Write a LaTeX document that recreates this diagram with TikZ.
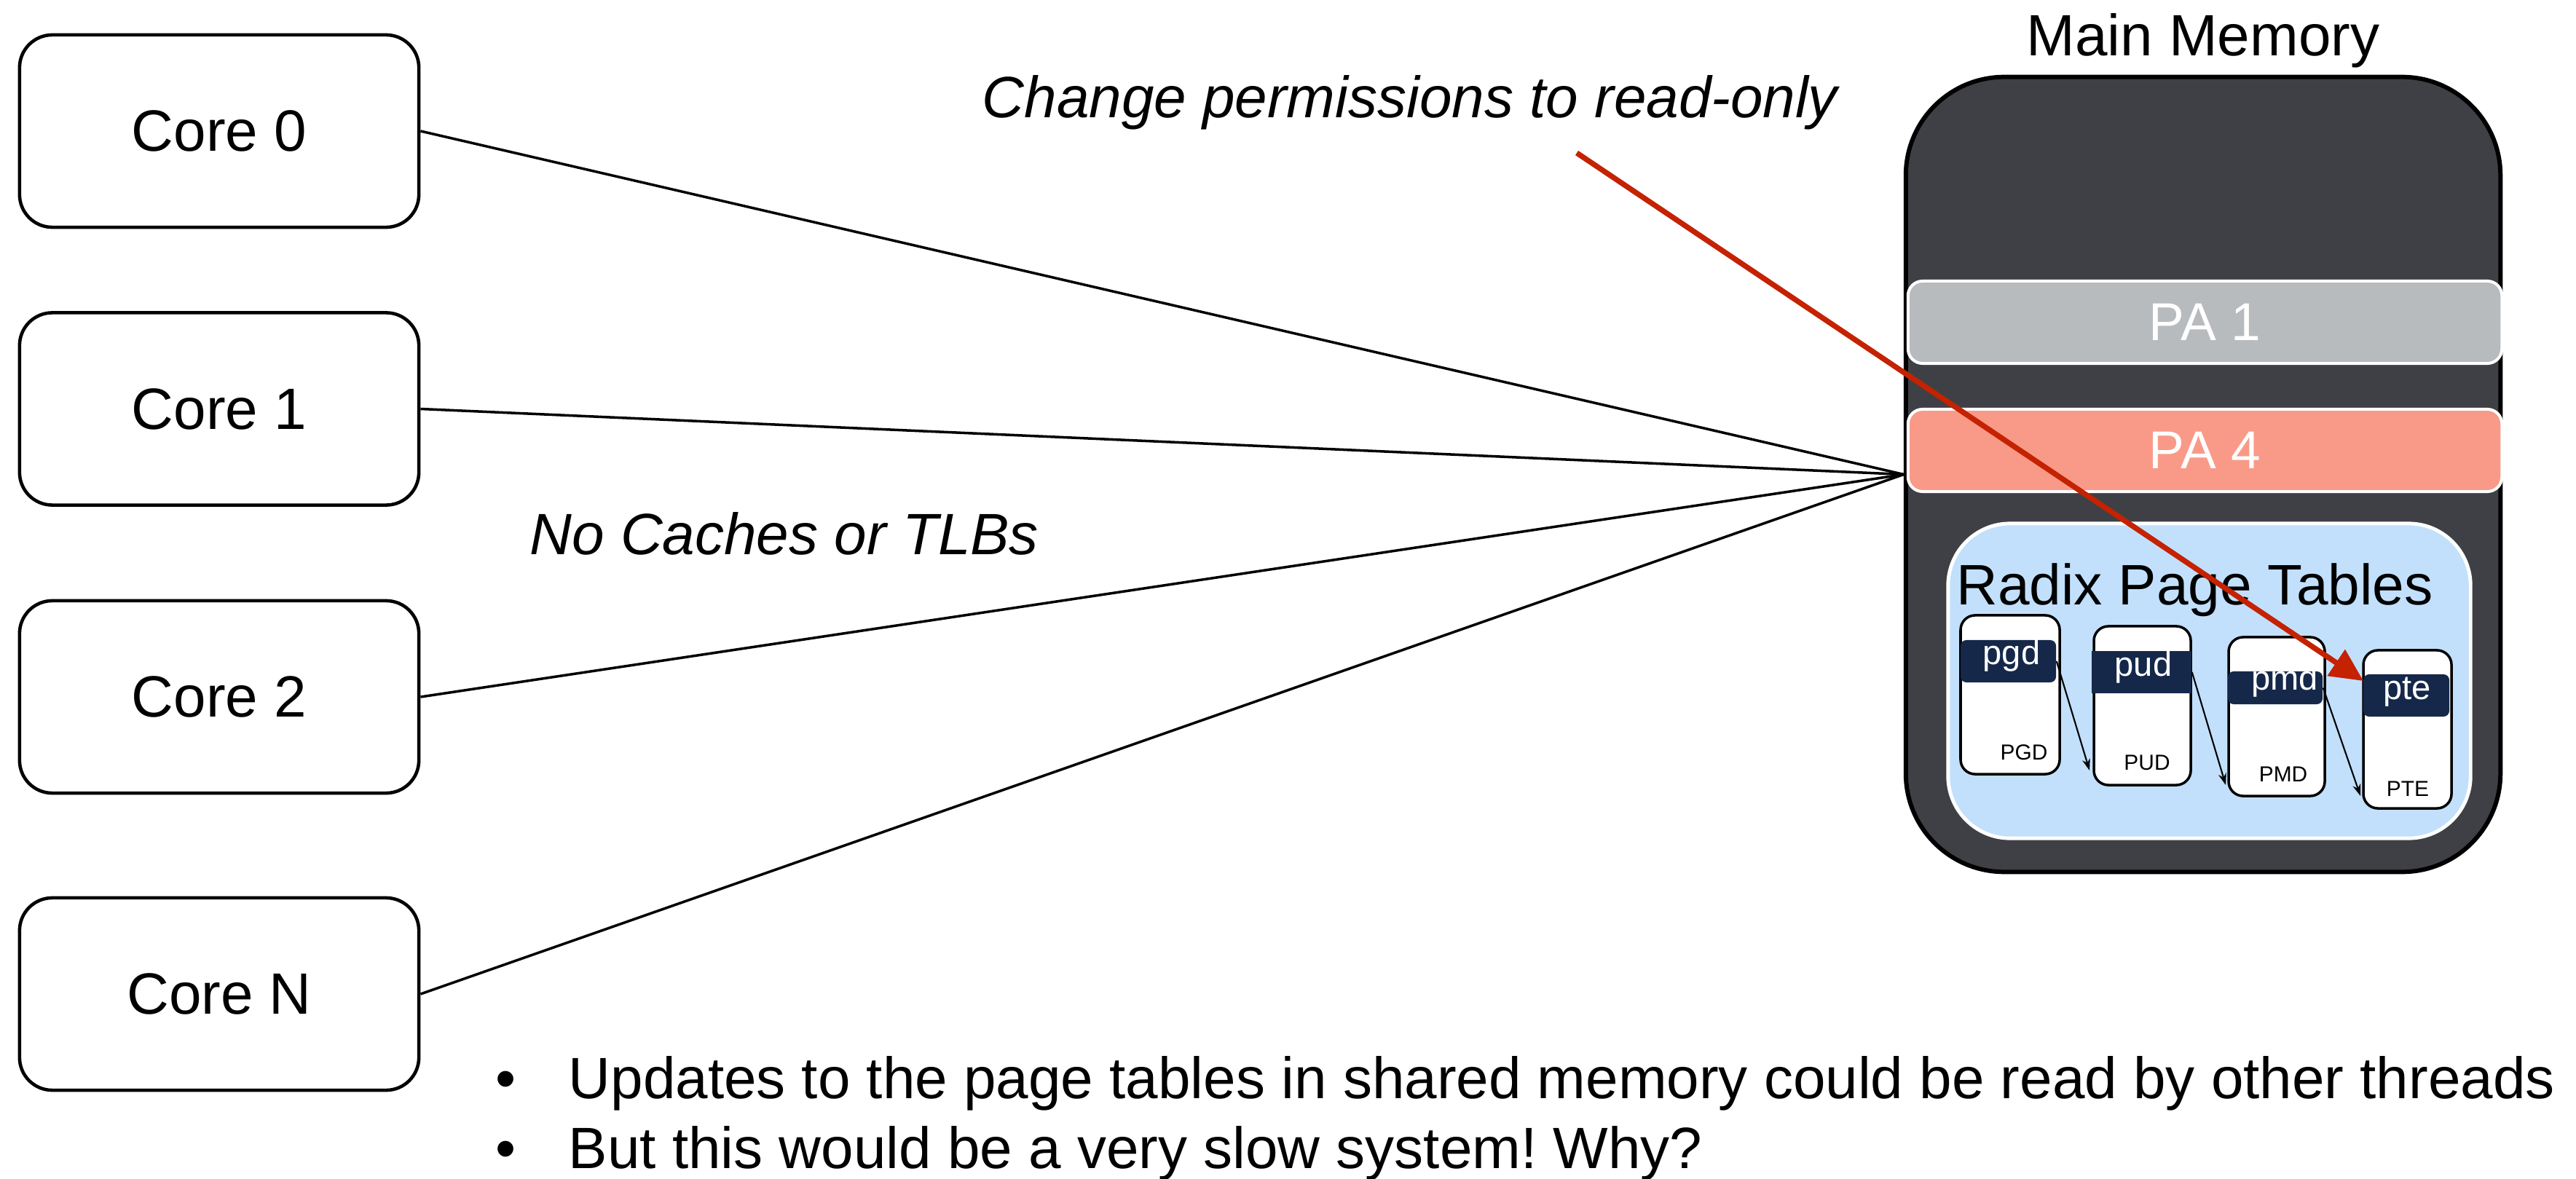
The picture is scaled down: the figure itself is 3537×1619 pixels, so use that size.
\documentclass[tikz,border=0pt]{standalone}
\usepackage{fontspec}
\setmainfont{Liberation Sans}
\usetikzlibrary{arrows.meta,calc}
\definecolor{memgray}{RGB}{62,64,69}
\definecolor{pagray}{RGB}{184,187,190}
\definecolor{pasalmon}{RGB}{249,154,136}
\definecolor{radixblue}{RGB}{194,224,251}
\definecolor{bandnavy}{RGB}{21,40,74}
\definecolor{arrowred}{RGB}{196,34,0}
\frenchspacing
\begin{document}
\begin{tikzpicture}[x=0.01cm,y=-0.01cm,
  bigtext/.style={font=\fontsize{22.76}{27}\selectfont},
  core/.style={draw=black, fill=white, line width=1.3pt, rounded corners=0.45cm,
    minimum width=5.48cm, minimum height=2.64cm, bigtext},
  txt/.style={inner sep=0pt, bigtext},
  pabox/.style={draw=white, line width=1.14pt, rounded corners=0.2cm,
    minimum width=8.15cm, minimum height=1.13cm, text=white,
    font=\fontsize{20.8}{24}\selectfont},
  ptbox/.style={draw=black, fill=white, line width=1pt, rounded corners=0.2cm, inner sep=0pt},
  band/.style={fill=bandnavy, rounded corners=0.08cm, inner sep=0pt},
  bandtext/.style={inner sep=0pt, text=white, anchor=base, font=\fontsize{13.4}{16}\selectfont},
  ptlabel/.style={inner sep=0pt, anchor=base, font=\fontsize{8.5}{10}\selectfont},
  coreline/.style={draw=black, line width=1pt},
  ptarrow/.style={draw=black, line width=0.6pt, -{Stealth[length=0.16cm,width=0.11cm]}},
  redarrow/.style={draw=arrowred, line width=2.1pt, -{Triangle[length=0.45cm,width=0.42cm]}}
]
\fill[white] (0,0) rectangle (3537,1619);
\useasboundingbox (0,0) rectangle (3537,1619);

% cores
\node[core] (c0) at (301,180) {Core 0};
\node[core] (c1) at (301,561.5) {Core 1};
\node[core] (c2) at (301,957) {Core 2};
\node[core] (cn) at (301,1365) {Core N};

% main memory
\node[draw=black, line width=1.7pt, fill=memgray, rounded corners=1.35cm,
  minimum width=8.16cm, minimum height=10.91cm] (mem) at (3025,651.5) {};
\node[txt, anchor=base] (memlabel) at (3025,77) {Main Memory};

\node[pabox, fill=pagray] (pa1) at (3027.5,442.5) {PA 1};
\node[pabox, fill=pasalmon] (pa4) at (3027.5,618.5) {PA 4};

\node[draw=white, fill=radixblue, line width=1.4pt, rounded corners=0.85cm,
  minimum width=7.17cm, minimum height=4.32cm] (radix) at (3033.5,935) {};
\node[inner sep=0pt, anchor=base west, font=\fontsize{22.3}{26}\selectfont] (radixlabel) at (2686,830) {Radix Page Tables};

% page tables
\node[ptbox, minimum width=1.36cm, minimum height=2.18cm] (pgd) at (2760,954) {};
\node[ptbox, minimum width=1.33cm, minimum height=2.18cm] (pud) at (2941.5,969) {};
\node[ptbox, minimum width=1.32cm, minimum height=2.18cm] (pmd) at (3126,984) {};
\node[ptbox, minimum width=1.21cm, minimum height=2.17cm] (pte) at (3305.5,1001.5) {};

\node[band, minimum width=1.31cm, minimum height=0.58cm] (pgdb) at (2757.5,908) {};
\node[band, rounded corners=0pt, minimum width=1.37cm, minimum height=0.58cm] (pudb) at (2940.5,923) {};
\node[band, minimum width=1.30cm, minimum height=0.45cm] (pmdb) at (3124,944.5) {};
\node[band, minimum width=1.18cm, minimum height=0.58cm] (pteb) at (3304,955) {};

\node[bandtext] (pgdt) at (2762,912) {pgd};
\node[bandtext] (pudt) at (2943,928) {pud};
\node[bandtext] (pmdt) at (3137,947) {pmd};
\node[bandtext] (ptet) at (3305,960) {pte};

\node[ptlabel] (pgdl) at (2779,1043) {PGD};
\node[ptlabel] (pudl) at (2948,1057) {PUD};
\node[ptlabel] (pmdl) at (3135,1073) {PMD};
\node[ptlabel] (ptel) at (3306,1093) {PTE};

\coordinate (a1) at (2869,1058);
\coordinate (a2) at (3056,1078);
\coordinate (a3) at (3241,1093);
\draw[ptarrow] (pgdb.east) -- (a1);
\draw[ptarrow] (pudb.east) -- (a2);
\draw[ptarrow] (pmdb.east) -- (a3);

% core connections
\draw[coreline] (c0.east) -- (mem.west);
\draw[coreline] (c1.east) -- (mem.west);
\draw[coreline] (c2.east) -- (mem.west);
\draw[coreline] (cn.east) -- (mem.west);

% labels
\node[txt, anchor=base west, font=\fontsize{22.76}{27}\selectfont\itshape] (chg) at (1348,162) {Change permissions to read-only};
\node[txt, anchor=base west, font=\fontsize{22.76}{27}\selectfont\itshape] (nocache) at (727,761) {No Caches or TLBs};

% red arrow
\coordinate (rs) at (2165,210);
\coordinate (rt) at (3245,935);
\draw[redarrow] (rs) -- (rt);

% bullets
\node[txt, anchor=base] (d1) at (694,1508) {•};
\node[txt, anchor=base] (d2) at (694,1604) {•};
\node[txt, anchor=base west] (b1) at (780,1508) {Updates to the page tables in shared memory could be read by other threads};
\node[txt, anchor=base west] (b2) at (780,1604) {But this would be a very slow system! Why?};
\end{tikzpicture}
\end{document}
